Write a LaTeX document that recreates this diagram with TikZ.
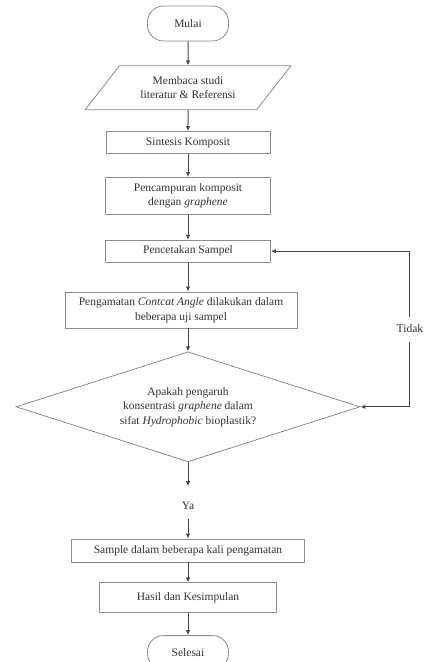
\documentclass[tikz,border=0pt]{standalone}
\usepackage{fontspec}
\setmainfont{Liberation Serif}
\usetikzlibrary{arrows.meta,positioning,shapes.geometric}
\definecolor{LineGray}{RGB}{70,70,70}
\definecolor{BoxGray}{RGB}{140,140,140}
\definecolor{TextGray}{RGB}{50,50,50}

\begin{document}
\begin{tikzpicture}[x=1pt,y=1pt,>={Latex[length=5pt,width=4.5pt]},
 font=\fontsize{11.5}{14.5}\selectfont,
 box/.style={draw=BoxGray,line width=.8pt,text=TextGray,align=center,inner sep=2pt},
 ujung/.style={box,rounded corners=16pt,minimum width=81pt,minimum height=35pt},
 panah/.style={->,draw=LineGray,line width=1pt}]
\useasboundingbox (0,0) rectangle (436,-662);
\node[ujung] (mulai) at (188,-23.5) {Mulai};
\node[box,trapezium,trapezium left angle=47,trapezium right angle=133,trapezium stretches=true,
 minimum width=206pt,minimum height=44pt,below=24pt of mulai] (studi) {Membaca studi\\literatur \& Referensi};
\node[box,minimum width=164pt,minimum height=22pt,below=21pt of studi] (sintesis) {Sintesis Komposit};
\node[box,minimum width=165pt,minimum height=37pt,below=23pt of sintesis] (campur) {Pencampuran komposit\\
 dengan \textit{graphene}};
\node[box,minimum width=165pt,minimum height=22pt,below=25pt of campur] (cetak) {Pencetakan Sampel};
\node[box,minimum width=232pt,minimum height=36pt,below=29pt of cetak,xshift=-7pt] (amati) {Pengamatan
 \textit{Contcat Angle} dilakukan dalam\\beberapa uji sampel};
\node[box,diamond,shape aspect=3.1,minimum width=344pt,minimum height=110pt,inner sep=0pt,below=23pt of amati,
 xshift=7pt] (cek) {Apakah pengaruh\\konsentrasi \textit{graphene} dalam\\sifat \textit{Hydrophobic} bioplastik?};
\node[text=TextGray,minimum height=26pt,below=30pt of cek] (ya) {Ya};
\node[box,minimum width=233pt,minimum height=23pt,below=20pt of ya] (sampel) {Sample dalam beberapa kali pengamatan};
\node[box,minimum width=177pt,minimum height=30pt,below=20pt of sampel] (hasil) {Hasil dan Kesimpulan};
\node[ujung,minimum height=34pt,below=22pt of hasil] (selesai) {Selesai};
\coordinate[right=139pt of cetak.east] (balik);
% alur utama
\draw[panah] (mulai) -- (studi);
\draw[panah] (studi) -- (sintesis);
\draw[panah] (sintesis) -- (campur);
\draw[panah] (campur) -- (cetak);
\draw[panah] (cetak) -- (cetak |- amati.north);
\draw[panah] (amati.south -| cek) -- (cek);
\draw[panah,shorten >=6pt] (cek) -- (ya);
\draw[panah] (ya) -- (sampel);
\draw[panah] (sampel) -- (hasil);
\draw[panah] (hasil) -- (selesai);
% kembali ke pencetakan
\draw[panah,<->] (cek.east) -| node[pos=.75,fill=white,text=TextGray,minimum width=52pt,minimum height=25pt]
 (tidak) {Tidak} (balik) -- (cetak.east);
\end{tikzpicture}
\end{document}
